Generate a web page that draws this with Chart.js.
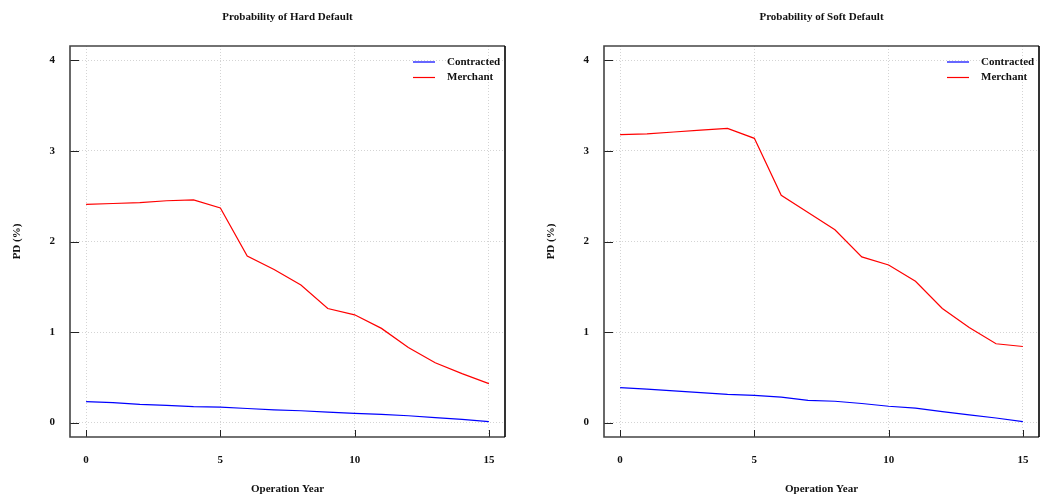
<!DOCTYPE html>
<html>
<head>
<meta charset="utf-8">
<script src="https://cdn.jsdelivr.net/npm/chart.js@4.4.1/dist/chart.umd.min.js"></script>
<style>
  html, body { margin: 0; padding: 0; background: #fff; overflow: hidden; }
  .panel { position: absolute; top: 0; width: 507px; height: 497px; }
  #hardBox { left: 0; }
  #softBox { left: 534px; }
</style>
</head>
<body>
<div class="panel" id="hardBox"><canvas id="hard"></canvas></div>
<div class="panel" id="softBox"><canvas id="soft"></canvas></div>
<script>
// operation years and PD values (%)
const years = [0, 1, 2, 3, 4, 5, 6, 7, 8, 9, 10, 11, 12, 13, 14, 15]
const hardContracted = [0.23, 0.22, 0.20, 0.19, 0.175, 0.17, 0.155, 0.14, 0.13, 0.115, 0.10, 0.09, 0.075, 0.055, 0.035, 0.01]
const hardMerchant = [2.41, 2.42, 2.43, 2.45, 2.46, 2.37, 1.84, 1.69, 1.52, 1.26, 1.19, 1.04, 0.83, 0.66, 0.54, 0.43]
const softContracted = [0.385, 0.37, 0.35, 0.33, 0.31, 0.30, 0.28, 0.245, 0.235, 0.21, 0.18, 0.16, 0.12, 0.085, 0.05, 0.01]
const softMerchant = [3.18, 3.19, 3.21, 3.23, 3.25, 3.14, 2.51, 2.32, 2.13, 1.83, 1.74, 1.56, 1.26, 1.05, 0.87, 0.84]

const xTicks = [0, 5, 10, 15]
const yTicks = [0, 1, 2, 3, 4]

Chart.defaults.font.family = "'Liberation Serif', 'Times New Roman', serif"
Chart.defaults.font.size = 11
Chart.defaults.font.weight = 'bold'
Chart.defaults.color = '#111'

// box around the plot, inward ticks and a legend inside the top right corner
const frame = {
    id: 'frame',
    afterDatasetsDraw(chart) {
        const {ctx, chartArea: a, scales} = chart
        ctx.save()
        ctx.strokeStyle = '#222'
        ctx.lineWidth = 1
        yTicks.forEach(v => {
            const y = Math.round(scales.y.getPixelForValue(v)) + 0.5
            ctx.beginPath(); ctx.moveTo(a.left, y); ctx.lineTo(a.left + 9, y); ctx.stroke()
        })
        xTicks.forEach(v => {
            const x = Math.round(scales.x.getPixelForValue(v)) + 0.5
            ctx.beginPath(); ctx.moveTo(x, a.bottom); ctx.lineTo(x, a.bottom - 7); ctx.stroke()
        })
        ctx.lineWidth = 1.6
        ctx.strokeStyle = '#444'
        ctx.beginPath()
        ctx.moveTo(a.right, a.top); ctx.lineTo(a.left, a.top); ctx.lineTo(a.left, a.bottom); ctx.lineTo(a.right, a.bottom)
        ctx.stroke()
        ctx.strokeStyle = '#000'
        ctx.beginPath(); ctx.moveTo(a.right, a.top); ctx.lineTo(a.right, a.bottom); ctx.stroke()

        ctx.font = "bold 11px 'Liberation Serif', serif"
        ctx.textBaseline = 'middle'
        ctx.textAlign = 'left'
        chart.data.datasets.forEach((ds, i) => {
            const y = a.top + 16 + i * 15.5
            ctx.strokeStyle = ds.borderColor
            ctx.lineWidth = 1.2
            ctx.beginPath(); ctx.moveTo(a.right - 92, y); ctx.lineTo(a.right - 70, y); ctx.stroke()
            ctx.fillStyle = '#111'
            ctx.fillText(ds.label, a.right - 58, y)
        })
        ctx.restore()
    }
}

function makeChart(id, title, contracted, merchant) {
    const pts = arr => arr.map((v, i) => ({x: years[i], y: v}))
    return new Chart(document.getElementById(id), {
        type: 'line',
        data: {
            datasets: [
                {label: 'Contracted', data: pts(contracted), borderColor: '#0000ff', borderWidth: 1.2, pointRadius: 0, tension: 0},
                {label: 'Merchant', data: pts(merchant), borderColor: '#ff0000', borderWidth: 1.2, pointRadius: 0, tension: 0}
            ]
        },
        options: {
            responsive: true,
            maintainAspectRatio: false,
            animation: false,
            layout: {padding: {left: 0, top: 0, bottom: 0, right: 2}},
            plugins: {
                legend: {display: false},
                tooltip: {enabled: false},
                title: {
                    display: true,
                    text: title,
                    fullSize: false,
                    font: {size: 11, weight: 'bold'},
                    padding: {top: 10.4, bottom: 22.4}
                }
            },
            scales: {
                x: {
                    type: 'linear',
                    min: -0.6,
                    max: 15.6,
                    afterBuildTicks: s => { s.ticks = xTicks.map(v => ({value: v})) },
                    afterFit: s => { s.height = 60; s.paddingLeft = 0; s.paddingRight = 0 },
                    grid: {color: '#d4d4d4', drawTicks: false},
                    border: {display: false, dash: [1, 2]},
                    ticks: {padding: 16.4, maxRotation: 0},
                    title: {display: true, text: 'Operation Year', padding: {top: 0, bottom: 1.1}}
                },
                y: {
                    min: -0.16,
                    max: 4.16,
                    afterBuildTicks: s => { s.ticks = yTicks.map(v => ({value: v})) },
                    afterFit: s => { s.width = 70; s.paddingTop = 0; s.paddingBottom = 0 },
                    grid: {color: '#d4d4d4', drawTicks: false},
                    border: {display: false, dash: [1, 2]},
                    ticks: {padding: 15},
                    title: {display: true, text: 'PD (%)', padding: {top: 10.4, bottom: 0}}
                }
            }
        },
        plugins: [frame]
    })
}

makeChart('hard', 'Probability of Hard Default', hardContracted, hardMerchant)
makeChart('soft', 'Probability of Soft Default', softContracted, softMerchant)
</script>
</body>
</html>
